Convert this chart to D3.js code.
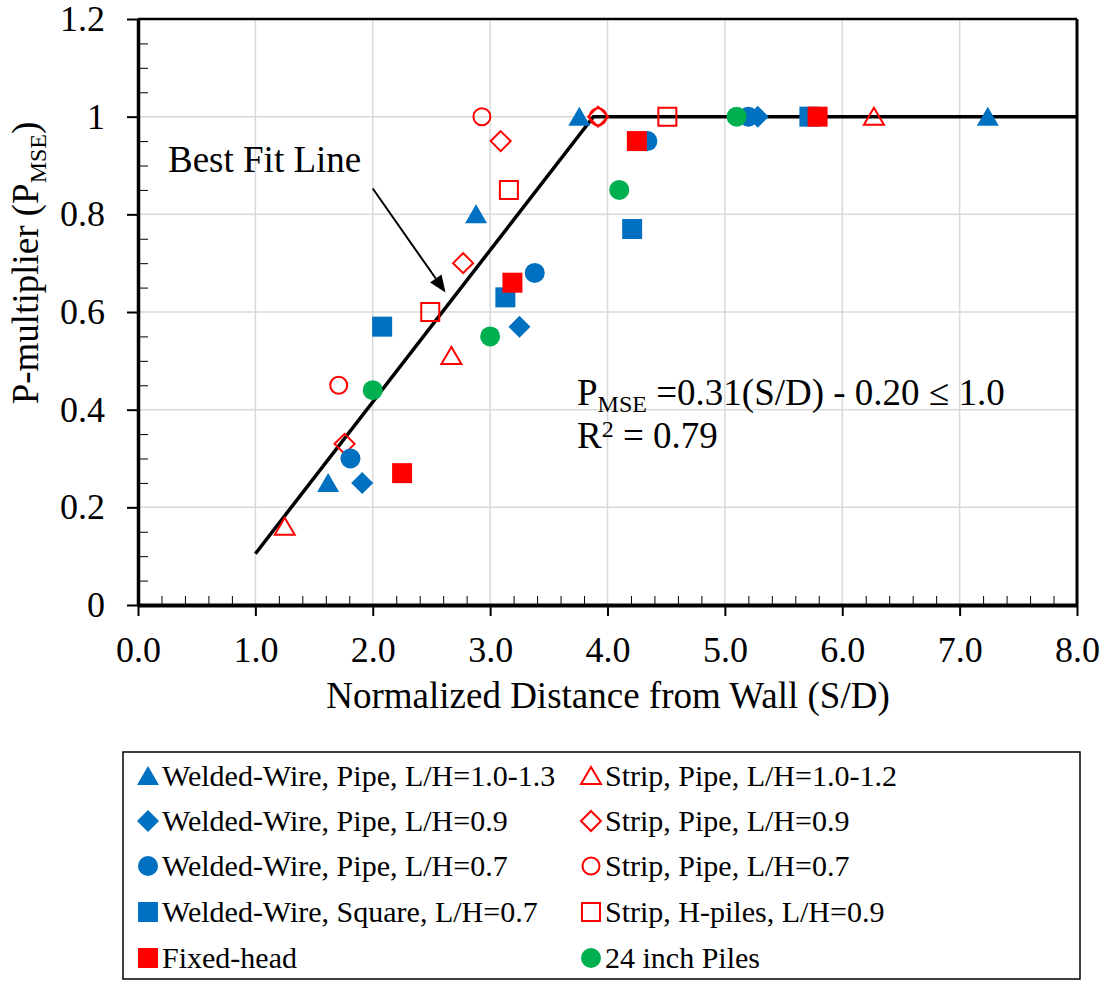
<!DOCTYPE html>
<html>
<head>
<meta charset="utf-8">
<script src="https://cdn.jsdelivr.net/npm/d3@7"></script>
<style>
  body { margin: 0; background: #fff; }
  text { font-family: "Liberation Serif", "Times New Roman", serif; fill: #000; }
</style>
</head>
<body>
<svg id="chart" width="1101" height="982"></svg>
<script>
// ---- data ----
const xTicks = [0, 1, 2, 3, 4, 5, 6, 7, 8];
const xTickLabels = ["0.0", "1.0", "2.0", "3.0", "4.0", "5.0", "6.0", "7.0", "8.0"];
const yTicks = [0, 0.2, 0.4, 0.6, 0.8, 1.0, 1.2];
const yTickLabels = ["0", "0.2", "0.4", "0.6", "0.8", "1", "1.2"];

const wwPipe13   = [[1.62, 0.25], [2.88, 0.80], [3.76, 1.0], [7.24, 1.0]];
const stripPipe12 = [[1.25, 0.16], [2.67, 0.51], [6.27, 1.0]];
const wwPipe09   = [[1.91, 0.25], [3.25, 0.57], [5.28, 1.0]];
const stripPipe09 = [[1.76, 0.33], [2.77, 0.70], [3.09, 0.95], [3.92, 1.0]];
const wwPipe07   = [[1.81, 0.30], [3.38, 0.68], [4.34, 0.95], [5.20, 1.0]];
const stripPipe07 = [[1.71, 0.45], [2.93, 1.0], [3.92, 1.0]];
const wwSquare07 = [[2.08, 0.57], [3.13, 0.63], [4.21, 0.77], [5.72, 1.0]];
const stripHpile09 = [[2.49, 0.60], [3.16, 0.85], [4.51, 1.0]];
const fixedHead  = [[2.25, 0.27], [3.19, 0.66], [4.25, 0.95], [5.79, 1.0]];
const piles24    = [[2.00, 0.44], [3.00, 0.55], [4.10, 0.85], [5.10, 1.0]];

const fitX = [1.0, 3.88, 8.0];
const fitY = [0.105, 1.0, 1.0];

const blue = "#0070C0", red = "#FF0000", green = "#00B050";

// series table, in the order the markers are drawn
const series = [
  { name: "Welded-Wire, Pipe, L/H=1.0-1.3", pts: wwPipe13, shape: "tri", color: blue, open: false },
  { name: "Strip, Pipe, L/H=1.0-1.2", pts: stripPipe12, shape: "tri", color: red, open: true },
  { name: "Welded-Wire, Pipe, L/H=0.9", pts: wwPipe09, shape: "dia", color: blue, open: false },
  { name: "Strip, Pipe, L/H=0.9", pts: stripPipe09, shape: "dia", color: red, open: true },
  { name: "Welded-Wire, Pipe, L/H=0.7", pts: wwPipe07, shape: "cir", color: blue, open: false },
  { name: "Strip, Pipe, L/H=0.7", pts: stripPipe07, shape: "cir", color: red, open: true },
  { name: "Welded-Wire, Square, L/H=0.7", pts: wwSquare07, shape: "sq", color: blue, open: false },
  { name: "Strip, H-piles, L/H=0.9", pts: stripHpile09, shape: "sq", color: red, open: true },
  { name: "Fixed-head", pts: fixedHead, shape: "sq", color: red, open: false },
  { name: "24 inch Piles", pts: piles24, shape: "cir", color: green, open: false }
];

// ---- layout ----
const svg = d3.select("#chart");
const x = d3.scaleLinear().domain([0, 8]).range([138, 1077]);
const y = d3.scaleLinear().domain([0, 1.2]).range([605, 19]);

function circlePath(r) { return `M${r},0 A${r},${r} 0 1,1 ${-r},0 A${r},${r} 0 1,1 ${r},0 Z`; }
function shapePath(s) {
  const h = s.open ? 9 : 10;
  if (s.shape === "tri") return `M0,${-h} L${h + 1},${h - 1} L${-(h + 1)},${h - 1} Z`;
  if (s.shape === "dia") return `M0,${-(h + 1)} L${h + 1},0 L0,${h + 1} L${-(h + 1)},0 Z`;
  if (s.shape === "sq") return `M${-h},${-h} H${h} V${h} H${-h} Z`;
  return circlePath(s.open ? 8.5 : 10);
}

// gridlines
svg.append("g").selectAll("line").data(xTicks.slice(1, -1)).join("line")
  .attr("x1", d => x(d)).attr("x2", d => x(d)).attr("y1", y(0)).attr("y2", y(1.2))
  .attr("stroke", "#d9d9d9").attr("stroke-width", 1.5);
svg.append("g").selectAll("line").data(yTicks.slice(1, -1)).join("line")
  .attr("x1", x(0)).attr("x2", x(8)).attr("y1", d => y(d)).attr("y2", d => y(d))
  .attr("stroke", "#d9d9d9").attr("stroke-width", 1.5);

// plot border (top and right)
svg.append("line").attr("x1", x(0)).attr("x2", x(8)).attr("y1", y(1.2)).attr("y2", y(1.2))
  .attr("stroke", "#000").attr("stroke-width", 2.5);
svg.append("line").attr("x1", x(8)).attr("x2", x(8)).attr("y1", y(1.2)).attr("y2", y(0))
  .attr("stroke", "#000").attr("stroke-width", 3);

// best fit line
svg.append("path")
  .datum(fitX.map((v, i) => [v, fitY[i]]))
  .attr("d", d3.line().x(d => x(d[0])).y(d => y(d[1])))
  .attr("fill", "none").attr("stroke", "#000").attr("stroke-width", 3.5);

// markers
series.forEach(s => {
  svg.append("g").selectAll("path").data(s.pts).join("path")
    .attr("transform", d => `translate(${x(d[0])},${y(d[1])})`)
    .attr("d", shapePath(s))
    .attr("fill", s.open ? "none" : s.color)
    .attr("stroke", s.open ? s.color : "none")
    .attr("stroke-width", 2);
});

// x axis
const xMinor = d3.range(0, 8.01, 0.2).map(v => +v.toFixed(1)).filter(v => !xTicks.includes(v));
const gx = svg.append("g").attr("transform", `translate(0,${y(0)})`)
  .call(d3.axisBottom(x).tickValues(xTicks).tickSizeInner(11).tickSizeOuter(0)
    .tickPadding(20).tickFormat((d, i) => xTickLabels[i]));
svg.append("g").attr("transform", `translate(0,${y(0)})`)
  .call(d3.axisTop(x).tickValues(xMinor).tickSize(9).tickFormat(""))
  .call(g => g.select(".domain").remove());
gx.select(".domain").attr("stroke-width", 4);
gx.selectAll(".tick line").attr("stroke-width", 2);
gx.selectAll(".tick text").attr("font-size", 36);

// y axis
const yMinor = d3.range(0, 1.2001, 0.05).map(v => +v.toFixed(2)).filter(v => !yTicks.some(t => Math.abs(t - v) < 1e-6));
const gy = svg.append("g").attr("transform", `translate(${x(0)},0)`)
  .call(d3.axisLeft(y).tickValues(yTicks).tickSizeInner(11).tickSizeOuter(0)
    .tickPadding(22).tickFormat((d, i) => yTickLabels[i]));
svg.append("g").attr("transform", `translate(${x(0)},0)`)
  .call(d3.axisRight(y).tickValues(yMinor).tickSize(10).tickFormat(""))
  .call(g => g.select(".domain").remove());
gy.select(".domain").attr("stroke-width", 3.5);
gy.selectAll(".tick line").attr("stroke-width", 2);
gy.selectAll(".tick text").attr("font-size", 36);
svg.selectAll(".tick line").attr("stroke", "#000");

// axis titles
svg.append("text").attr("x", 608).attr("y", 708).attr("text-anchor", "middle")
  .attr("font-size", 37).text("Normalized Distance from Wall (S/D)");
const yt = svg.append("text").attr("transform", "translate(38,263) rotate(-90)")
  .attr("text-anchor", "middle").attr("font-size", 37);
yt.append("tspan").text("P-multiplier (P");
yt.append("tspan").attr("font-size", 24).attr("dy", 8).text("MSE");
yt.append("tspan").attr("dy", -8).text(")");

// annotation: best fit line label + arrow
svg.append("text").attr("x", 168).attr("y", 172).attr("font-size", 37).text("Best Fit Line");
const a0 = [x(2.0), y(0.853)], a1 = [x(2.62), y(0.64)];
const ang = Math.atan2(a1[1] - a0[1], a1[0] - a0[0]);
const hl = 17, hw = 7;
const back = [a1[0] - hl * Math.cos(ang), a1[1] - hl * Math.sin(ang)];
svg.append("line").attr("x1", a0[0]).attr("y1", a0[1]).attr("x2", back[0]).attr("y2", back[1])
  .attr("stroke", "#000").attr("stroke-width", 2);
svg.append("path")
  .attr("d", `M${a1[0]},${a1[1]} L${back[0] + hw * Math.sin(ang)},${back[1] - hw * Math.cos(ang)} L${back[0] - hw * Math.sin(ang)},${back[1] + hw * Math.cos(ang)} Z`)
  .attr("fill", "#000");

// equation
const eq = svg.append("text").attr("x", 577).attr("y", 405).attr("font-size", 37);
eq.append("tspan").text("P");
eq.append("tspan").attr("font-size", 24).attr("dy", 7).text("MSE");
eq.append("tspan").attr("dy", -7).text(" =0.31(S/D) - 0.20 \u2264 1.0");
const r2 = svg.append("text").attr("x", 577).attr("y", 448).attr("font-size", 37);
r2.append("tspan").text("R");
r2.append("tspan").attr("font-size", 24).attr("dy", -11).text("2");
r2.append("tspan").attr("dy", 11).text(" = 0.79");

// legend
svg.append("rect").attr("x", 123).attr("y", 752).attr("width", 957).attr("height", 227)
  .attr("fill", "none").attr("stroke", "#000").attr("stroke-width", 1.5);
const legRowY = [776, 821, 866, 912, 958];
const legColX = [148, 591];
series.forEach((s, i) => {
  const col = i % 2, row = Math.floor(i / 2);
  const cx = legColX[col], cy = legRowY[row];
  svg.append("path").attr("transform", `translate(${cx},${cy})`).attr("d", shapePath(s))
    .attr("fill", s.open ? "none" : s.color).attr("stroke", s.open ? s.color : "none").attr("stroke-width", 2);
  svg.append("text").attr("x", cx + 14).attr("y", cy + 10).attr("font-size", 30).text(s.name);
});
</script>
</body>
</html>
